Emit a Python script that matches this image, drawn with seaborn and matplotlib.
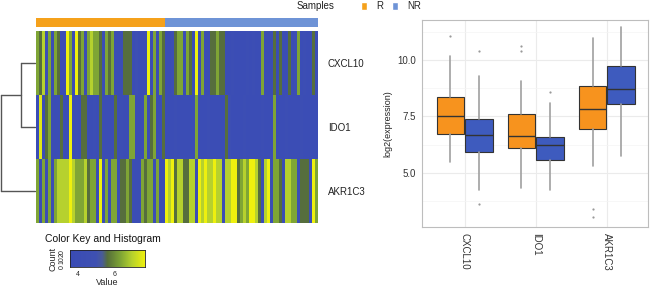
import matplotlib
matplotlib.use("Agg")
import matplotlib.pyplot as plt
from matplotlib.colors import LinearSegmentedColormap, ListedColormap
from matplotlib.patches import Patch
from matplotlib.ticker import MultipleLocator
import numpy as np
import pandas as pd
import seaborn as sns

genes = ["CXCL10", "IDO1", "AKR1C3"]
groups = ["R", "NR"]

# heatmap cells (R samples first, then NR)
cxcl10_r = [6.3, 5.6, 6.9, 3.9, 6.3, 3.9, 6.3, 5.6, 3.9, 3.9,
            7.6, 6.3, 3.9, 7.6, 5.6, 6.3, 3.9, 6.3, 6.9, 6.3,
            6.3, 5.6, 3.9, 6.3, 5.6, 6.3, 3.9, 3.9, 3.9, 5.6,
            5.6, 5.6, 3.9, 4.5, 3.9, 3.9, 3.9, 7.6, 3.9, 6.3,
            3.9, 6.3, 5.6]
cxcl10_nr = [3.9, 3.9, 4.3, 5.6, 6.3, 6.3, 3.9, 6.3, 5.6, 3.9,
             7.6, 3.9, 6.3, 3.9, 3.9, 5.6, 5.6, 6.3, 5.6, 5.6,
             3.9, 3.9, 4.3, 3.9, 3.9, 3.9, 3.9, 4.3, 3.9, 4.3,
             3.9, 3.9, 6.3, 3.9, 3.9, 3.9, 5.6, 3.9, 5.6, 3.9,
             3.9, 5.6, 3.9, 4.3, 6.3, 3.9, 4.3, 3.9, 3.9, 5.6,
             3.9]
ido1_r = [3.9, 7.4, 3.9, 5.6, 6.3, 3.9, 3.9, 3.9, 5.6, 3.9,
          3.9, 7.6, 3.9, 4.3, 3.9, 5.6, 5.6, 3.9, 3.9, 4.3,
          3.9, 5.6, 3.9, 3.9, 3.9, 3.9, 5.6, 3.9, 4.3, 3.9,
          3.9, 6.3, 6.3, 3.9, 3.9, 3.9, 6.3, 3.9, 5.6, 6.3,
          3.9, 3.9, 5.6]
ido1_nr = [3.9, 3.9, 3.9, 4.2, 3.9, 3.9, 3.9, 3.9, 3.9, 3.9,
           6.3, 3.9, 3.9, 3.9, 4.2, 3.9, 3.9, 3.9, 3.9, 3.9,
           5.6, 4.5, 3.9, 3.9, 3.9, 3.9, 4.2, 3.9, 3.9, 3.9,
           3.9, 3.9, 4.2, 3.9, 3.9, 3.9, 6.3, 3.9, 3.9, 3.9,
           4.2, 3.9, 3.9, 3.9, 3.9, 4.2, 3.9, 3.9, 3.9, 3.9,
           3.9]
akr1c3_r = [6.3, 3.9, 6.3, 3.9, 6.3, 3.9, 6.3, 6.9, 6.9, 6.9,
            6.9, 7.6, 6.9, 6.3, 6.3, 6.3, 6.9, 5.6, 6.3, 6.3,
            3.9, 7.6, 3.9, 6.3, 3.9, 6.3, 6.3, 3.9, 5.6, 5.6,
            6.3, 5.6, 3.9, 3.9, 3.9, 6.3, 5.6, 6.3, 6.3, 3.9,
            6.3, 3.9, 3.9]
akr1c3_nr = [7.6, 6.9, 7.6, 5.6, 6.9, 6.9, 5.6, 5.6, 6.9, 6.9,
             3.9, 7.6, 6.9, 7.6, 6.9, 6.9, 7.6, 6.9, 6.9, 3.9,
             6.9, 6.9, 7.6, 7.6, 5.6, 6.3, 6.9, 6.3, 7.6, 7.6,
             6.9, 5.6, 3.9, 6.9, 7.6, 3.9, 6.3, 6.3, 5.6, 3.9,
             6.9, 6.9, 6.3, 6.3, 3.9, 5.6, 5.6, 5.6, 3.9, 7.6,
             6.3]

# dendrogram merge heights (CXCL10+IDO1, then with AKR1C3)
merge_heights = [0.4, 1.0]

# boxplot summaries
r_whislo = [5.47, 4.34, 5.32]
r_q1 = [6.74, 6.10, 6.94]
r_med = [7.50, 6.65, 7.84]
r_q3 = [8.35, 7.62, 8.85]
r_whishi = [10.18, 9.07, 10.96]
r_fliers = [[11.06], [10.37, 10.62], [3.06, 3.41]]
nr_whislo = [4.27, 4.24, 5.76]
nr_q1 = [5.93, 5.56, 8.06]
nr_med = [6.69, 6.22, 8.72]
nr_q3 = [7.40, 6.59, 9.74]
nr_whishi = [9.29, 8.09, 11.44]
nr_fliers = [[3.65, 10.37], [8.56], []]

ORANGE = "#F7931E"
BLUE = "#3E5BBE"
BAR_ORANGE = "#F5A11B"
BAR_BLUE = "#6E93D6"

sns.set_style("white")
plt.rcParams["font.family"] = ["Liberation Sans", "DejaVu Sans"]

heat_cmap = LinearSegmentedColormap.from_list(
    "bgy", [(0.0, "#3A4CB6"), (0.35, "#3F51B2"), (0.43, "#4A5C98"),
            (0.5, "#566F3A"), (0.675, "#7FA535"), (0.825, "#B5D12E"),
            (1.0, "#EEF00E")])
VMIN, VMAX = 3.6, 7.6

W, H = 650, 291
fig = plt.figure(figsize=(W / 100, H / 100), dpi=100)


def px_axes(x0, y0, x1, y1):
    return fig.add_axes([x0 / W, 1 - y1 / H, (x1 - x0) / W, (y1 - y0) / H])


df_heat = pd.DataFrame([cxcl10_r + cxcl10_nr, ido1_r + ido1_nr, akr1c3_r + akr1c3_nr],
                       index=genes)
n_r = len(cxcl10_r)
n_nr = len(cxcl10_nr)

# sample annotation bar
ax_bar = px_axes(36, 18, 318, 27)
sns.heatmap(pd.DataFrame([[0] * n_r + [1] * n_nr]), ax=ax_bar, cbar=False,
            cmap=ListedColormap([BAR_ORANGE, BAR_BLUE]), vmin=0, vmax=1,
            xticklabels=False, yticklabels=False)

# main heatmap
ax_hm = px_axes(36, 31, 318, 223)
sns.heatmap(df_heat, ax=ax_hm, cmap=heat_cmap, vmin=VMIN, vmax=VMAX, cbar=False,
            xticklabels=False, yticklabels=genes)
ax_hm.yaxis.tick_right()
ax_hm.tick_params(axis="y", length=0, pad=7, labelsize=7, labelcolor="#222222")
for t in ax_hm.get_yticklabels():
    t.set_rotation(0)

# row dendrogram
ax_den = px_axes(1, 31, 35, 223)
h1, h2 = merge_heights
den_kw = dict(color="#555555", lw=1.0, clip_on=False)
ax_den.plot([0, h1], [0.5, 0.5], **den_kw)
ax_den.plot([0, h1], [1.5, 1.5], **den_kw)
ax_den.plot([h1, h1], [0.5, 1.5], **den_kw)
ax_den.plot([h1, h2], [1.0, 1.0], **den_kw)
ax_den.plot([0, h2], [2.5, 2.5], **den_kw)
ax_den.plot([h2, h2], [1.0, 2.5], **den_kw)
ax_den.set_xlim(h2, 0)
ax_den.set_ylim(3, 0)
ax_den.axis("off")

# colour key
ax_key = px_axes(70, 250, 145, 267)
grad = np.linspace(VMIN, VMAX, 256)[None, :]
ax_key.imshow(grad, aspect="auto", cmap=heat_cmap, vmin=VMIN, vmax=VMAX,
              extent=[VMIN, VMAX, 0, 25], origin="lower")
ax_key.set_xlim(VMIN, VMAX)
ax_key.set_ylim(0, 25)
ax_key.set_xticks([4, 6])
ax_key.set_yticks([0, 10, 20])
ax_key.tick_params(axis="both", length=2, width=0.5, labelsize=5, pad=1)
for t in ax_key.get_yticklabels():
    t.set_rotation(90)
    t.set_va("center")
ax_key.set_xlabel("Value", fontsize=6.5, labelpad=0)
ax_key.set_ylabel("Count", fontsize=6.5, labelpad=1)
for s in ax_key.spines.values():
    s.set_linewidth(0.6)
    s.set_color("#222222")
fig.text(45 / W, 1 - 239 / H, "Color Key and Histogram", fontsize=7.5,
         va="center", ha="left", color="#111111")

# legend
fig.text(334 / W, 1 - 6 / H, "Samples", fontsize=7, va="center", ha="right", color="#222222")
fig.legend(handles=[Patch(facecolor=BAR_ORANGE), Patch(facecolor=BAR_BLUE)], labels=groups,
           loc="center left", bbox_to_anchor=(361 / W, 1 - 6 / H), ncol=2, frameon=False,
           fontsize=7, handlelength=0.65, handleheight=0.9, handletextpad=0.9,
           columnspacing=0.9, borderpad=0, borderaxespad=0)

# boxplot panel
ax_box = px_axes(422, 20, 648, 227)
stats, positions, colors = [], [], []
for i in range(len(genes)):
    stats.append(dict(med=r_med[i], q1=r_q1[i], q3=r_q3[i], whislo=r_whislo[i],
                      whishi=r_whishi[i], fliers=r_fliers[i]))
    positions.append(i - 0.2)
    colors.append(ORANGE)
    stats.append(dict(med=nr_med[i], q1=nr_q1[i], q3=nr_q3[i], whislo=nr_whislo[i],
                      whishi=nr_whishi[i], fliers=nr_fliers[i]))
    positions.append(i + 0.2)
    colors.append(BLUE)

bp = ax_box.bxp(stats, positions=positions, widths=0.39, patch_artist=True,
                showcaps=False, manage_ticks=False,
                boxprops=dict(edgecolor="#333333", linewidth=0.8),
                medianprops=dict(color="#333333", linewidth=1.0),
                whiskerprops=dict(color="#A0A0A0", linewidth=1.2),
                flierprops=dict(marker="o", markersize=1.6, markerfacecolor="#999999",
                                markeredgecolor="none"))
for patch, c in zip(bp["boxes"], colors):
    patch.set_facecolor(c)

ax_box.set_xlim(-0.6, 2.58)
ax_box.set_ylim(2.62, 11.76)
ax_box.set_xticks(range(len(genes)))
ax_box.set_xticklabels(genes, rotation=-90, va="top", ha="center")
ax_box.set_yticks([5.0, 7.5, 10.0])
ax_box.set_yticklabels(["5.0", "7.5", "10.0"])
ax_box.yaxis.set_minor_locator(MultipleLocator(1.25))
ax_box.set_axisbelow(True)
ax_box.grid(which="major", color="#EBEBEB", linewidth=0.8)
ax_box.grid(which="minor", axis="y", color="#F4F4F4", linewidth=0.5)
ax_box.tick_params(axis="both", which="major", length=2.5, width=0.8, color="#333333",
                   labelsize=7, labelcolor="#333333", pad=2)
ax_box.tick_params(axis="y", which="minor", length=0)
ax_box.set_ylabel("log2(expression)", fontsize=6.5, color="#222222", labelpad=3)
for s in ax_box.spines.values():
    s.set_color("#BDBDBD")
    s.set_linewidth(0.8)

fig.savefig("out.png", dpi=100)
